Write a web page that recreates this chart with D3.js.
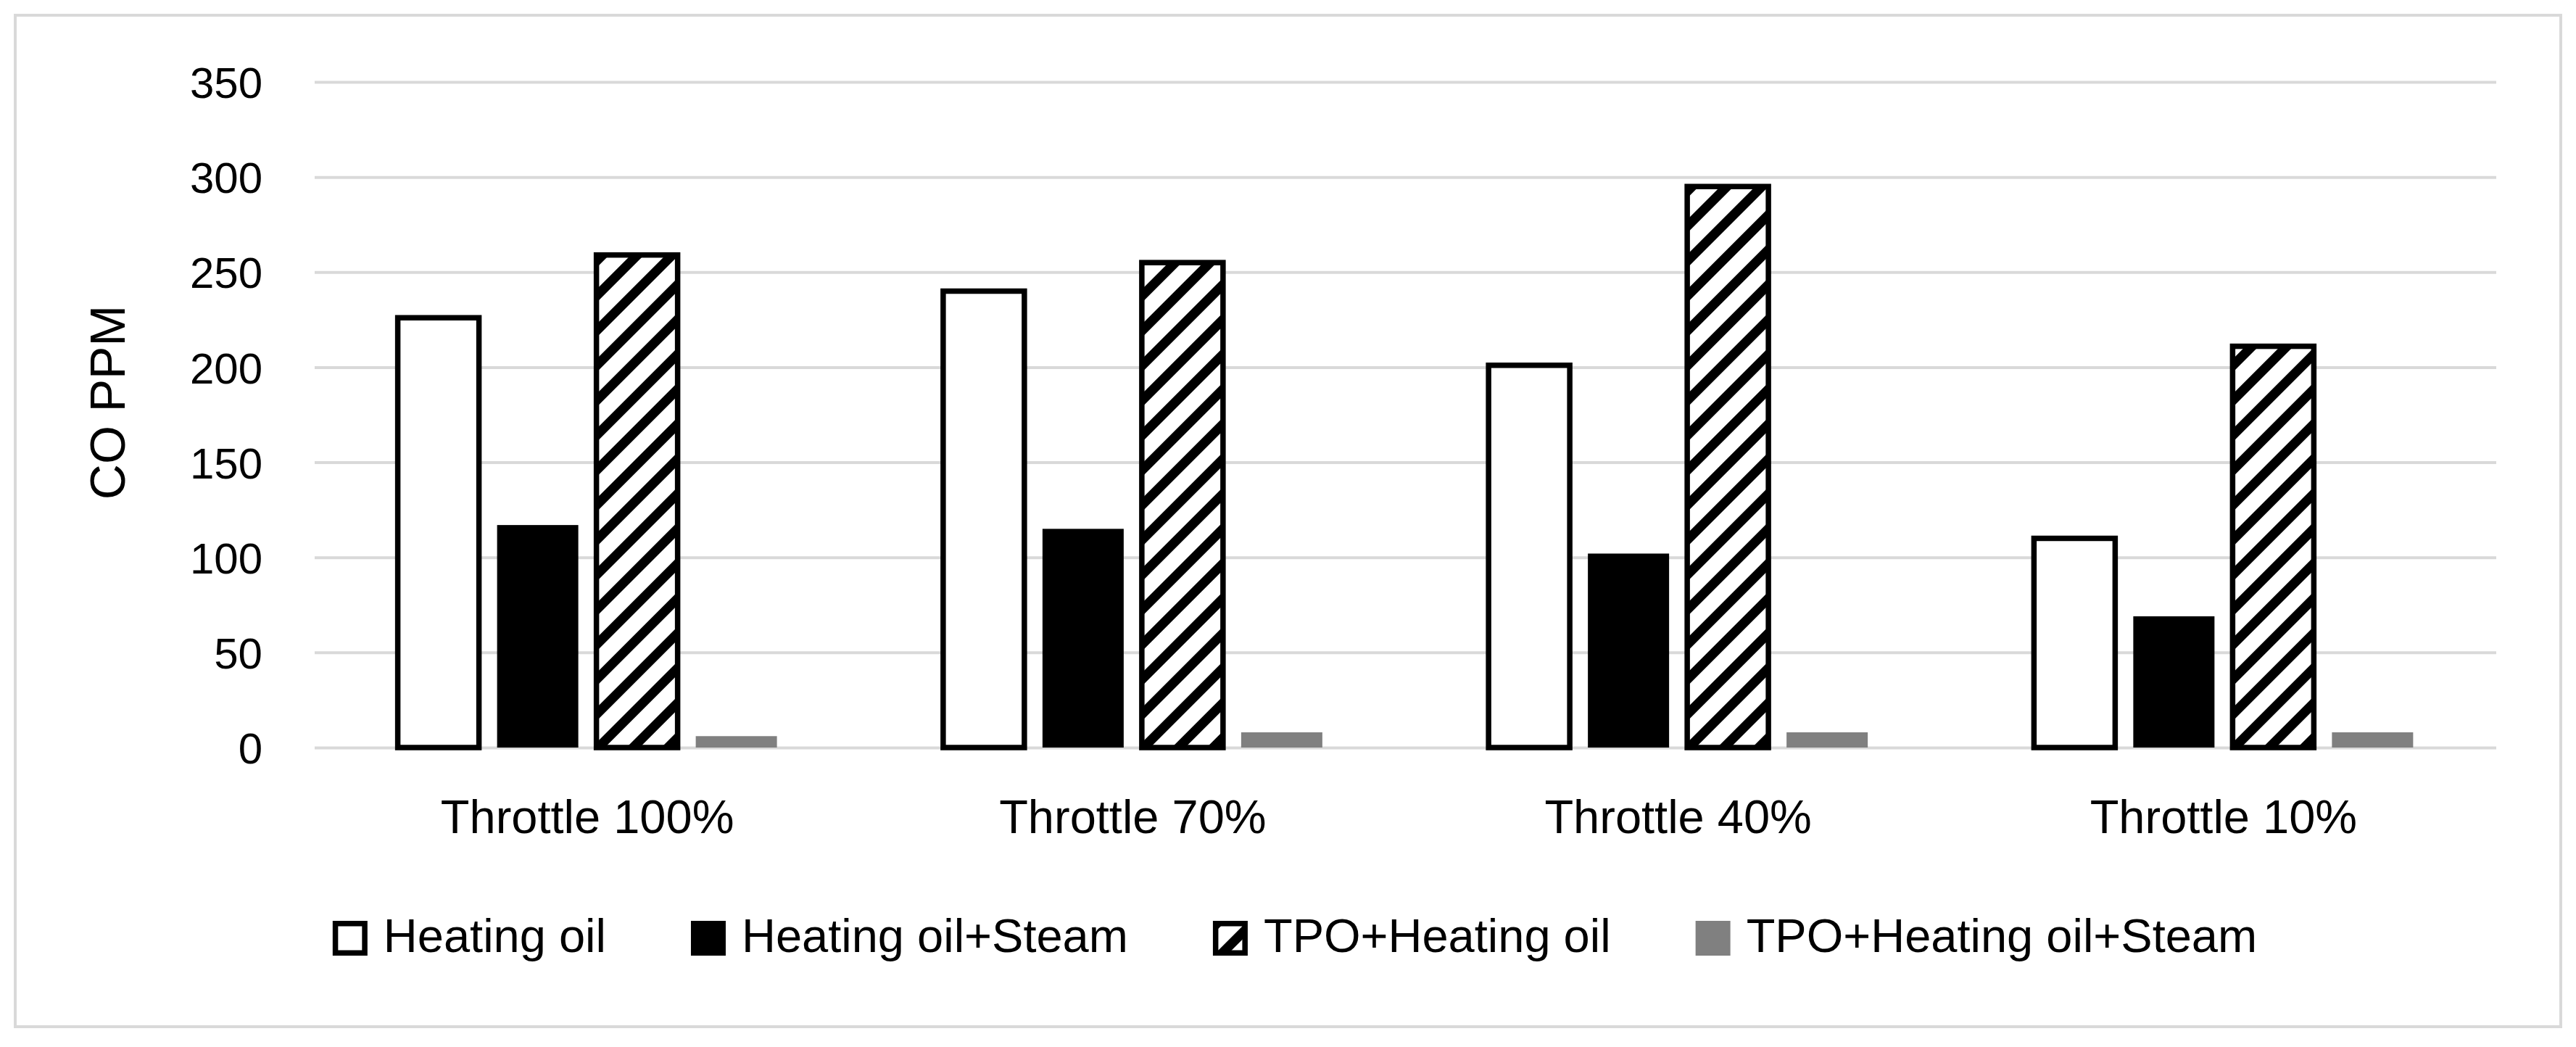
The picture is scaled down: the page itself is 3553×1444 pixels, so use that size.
<!DOCTYPE html>
<html>
<head>
<meta charset="utf-8">
<script src="https://cdn.jsdelivr.net/npm/d3@7"></script>
<style>
  html, body { margin: 0; padding: 0; background: #ffffff; }
  svg { display: block; }
  text { font-family: "Liberation Sans", Arial, sans-serif; fill: #000; }
</style>
</head>
<body>
<svg id="chart" width="3553" height="1444"></svg>
<script>
// ---- data ----
const categories = ["Throttle 100%", "Throttle 70%", "Throttle 40%", "Throttle 10%"];
const seriesNames = ["Heating oil", "Heating oil+Steam", "TPO+Heating oil", "TPO+Heating oil+Steam"];
const heatingOil = [226, 240, 201, 110];
const heatingOilSteam = [117, 115, 102, 69];
const tpoHeatingOil = [259, 255, 295, 211];
const tpoHeatingOilSteam = [6, 8, 8, 8];
const yTicks = [0, 50, 100, 150, 200, 250, 300, 350];
const yTitle = "CO PPM";

const seriesValues = [heatingOil, heatingOilSteam, tpoHeatingOil, tpoHeatingOilSteam];

// ---- layout ----
const W = 3553, H = 1444;
const frame = { x0: 21, y0: 21, x1: 3532, y1: 1416 };
const plot = { left: 434, right: 3443, top: 113, bottom: 1031 };

const svg = d3.select("#chart");
svg.append("rect").attr("width", W).attr("height", H).attr("fill", "#fff");

// hatch pattern (wide upward diagonal)
const defs = svg.append("defs");
const pat = defs.append("pattern")
  .attr("id", "hatch")
  .attr("patternUnits", "userSpaceOnUse")
  .attr("width", 34).attr("height", 34)
  .attr("patternTransform", "rotate(45)");
pat.append("rect").attr("width", 34).attr("height", 34).attr("fill", "#fff");
pat.append("rect").attr("x", 0).attr("y", 0).attr("width", 13).attr("height", 34).attr("fill", "#000");

const styles = [
  { fill: "#ffffff", stroke: "#000", sw: 7.5 },
  { fill: "#000000", stroke: "none", sw: 0 },
  { fill: "url(#hatch)", stroke: "#000", sw: 7.5 },
  { fill: "#808080", stroke: "none", sw: 0 }
];

// chart frame
svg.append("rect")
  .attr("x", frame.x0).attr("y", frame.y0)
  .attr("width", frame.x1 - frame.x0).attr("height", frame.y1 - frame.y0)
  .attr("fill", "none").attr("stroke", "#d9d9d9").attr("stroke-width", 4);

// scales
const y = d3.scaleLinear().domain([0, 350]).range([plot.bottom, plot.top]);
const x0 = d3.scaleBand().domain(categories).range([plot.left, plot.right]).padding(0);
const groupW = 523;
const groupOff = (x0.bandwidth() - groupW) / 2;
const x1 = d3.scaleBand().domain(d3.range(seriesNames.length)).range([0, groupW])
  .paddingInner(0.1825).paddingOuter(0);

// gridlines
const grid = svg.append("g").attr("transform", `translate(${plot.left},0)`)
  .call(d3.axisLeft(y).tickValues(yTicks).tickSize(-(plot.right - plot.left)).tickFormat(""));
grid.select(".domain").remove();
grid.selectAll(".tick line").attr("stroke", "#d9d9d9").attr("stroke-width", 4);

// y tick labels
const yAxis = svg.append("g").attr("transform", `translate(${plot.left},0)`)
  .call(d3.axisLeft(y).tickValues(yTicks).tickSize(0).tickPadding(72));
yAxis.select(".domain").remove();
yAxis.selectAll("text")
  .style("font-family", '"Liberation Sans", Arial, sans-serif')
  .attr("font-size", 60).attr("fill", "#000").attr("dy", "0.36em");

// y title
svg.append("text")
  .attr("transform", `translate(172,555) rotate(-90)`)
  .attr("text-anchor", "middle")
  .attr("font-size", 68)
  .text(yTitle);

// bars
const groups = svg.append("g").selectAll("g.grp")
  .data(categories)
  .join("g")
  .attr("class", "grp")
  .attr("transform", d => `translate(${x0(d) + groupOff},0)`);

groups.selectAll("rect")
  .data((d, ci) => seriesValues.map((vals, si) => ({ si, v: vals[ci] })))
  .join("rect")
  .attr("x", d => x1(d.si))
  .attr("width", x1.bandwidth())
  .attr("y", d => y(d.v))
  .attr("height", d => y(0) - y(d.v))
  .attr("fill", d => styles[d.si].fill)
  .attr("stroke", d => styles[d.si].stroke)
  .attr("stroke-width", d => styles[d.si].sw);

// x axis labels
const xAxis = svg.append("g").attr("transform", `translate(0,${plot.bottom})`)
  .call(d3.axisBottom(x0).tickSize(0));
xAxis.select(".domain").remove();
xAxis.selectAll("text")
  .style("font-family", '"Liberation Sans", Arial, sans-serif')
  .attr("font-size", 65).attr("fill", "#000")
  .attr("dy", null).attr("y", 118);

// legend
const legend = svg.append("g");
const sq = 48, sqGap = 22, itemGap = 117;
const items = legend.selectAll("g.item").data(seriesNames).join("g").attr("class", "item");
items.append("rect")
  .attr("width", d => sq - styles[seriesNames.indexOf(d)].sw)
  .attr("height", d => sq - styles[seriesNames.indexOf(d)].sw)
  .attr("x", d => styles[seriesNames.indexOf(d)].sw / 2)
  .attr("y", d => styles[seriesNames.indexOf(d)].sw / 2)
  .attr("fill", d => styles[seriesNames.indexOf(d)].fill)
  .attr("stroke", d => styles[seriesNames.indexOf(d)].stroke)
  .attr("stroke-width", d => styles[seriesNames.indexOf(d)].sw);
items.append("text")
  .attr("x", sq + sqGap)
  .attr("y", 43)
  .attr("font-size", 65)
  .text(d => d);

const widths = [];
items.each(function () {
  const t = d3.select(this).select("text").node().getComputedTextLength();
  widths.push(sq + sqGap + t);
});
const total = d3.sum(widths) + itemGap * (widths.length - 1);
const startX = 1786 - total / 2;
items.attr("transform", (d, i) => {
  const xx = startX + d3.sum(widths.slice(0, i)) + itemGap * i;
  return `translate(${xx},1270)`;
});
</script>
</body>
</html>
